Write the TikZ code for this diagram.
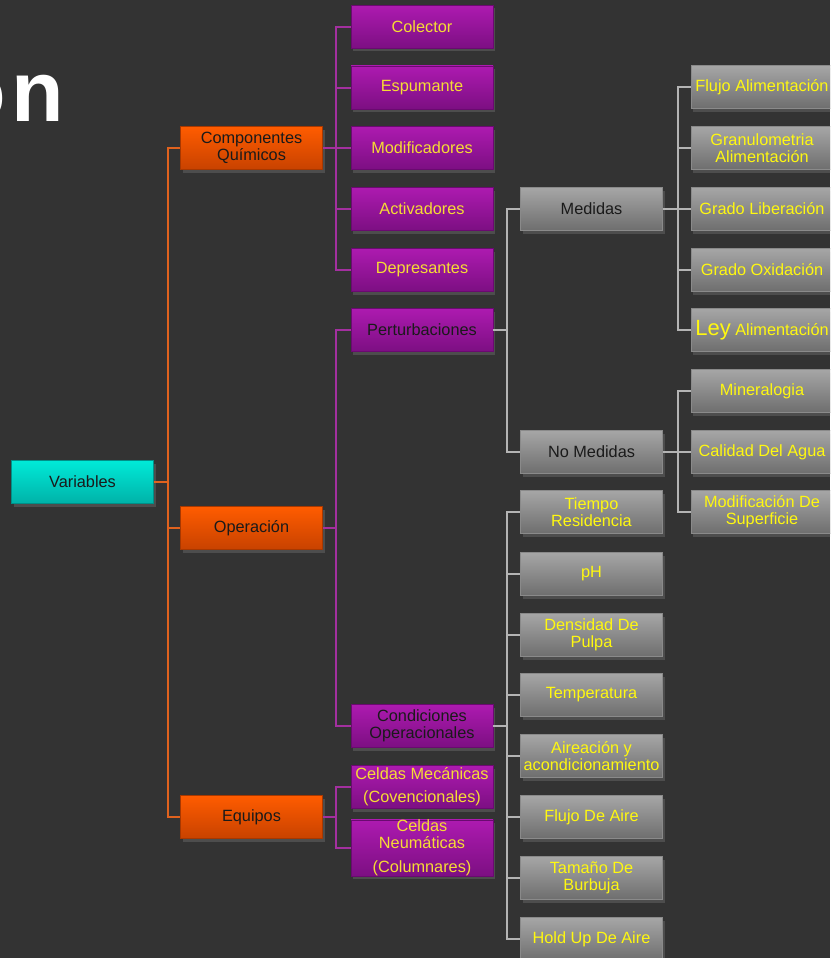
\documentclass[tikz,border=0pt]{standalone}
\usepackage{fontspec}
\setmainfont{Liberation Sans}
\usetikzlibrary{shadows}
\definecolor{bg}{HTML}{333333}
\definecolor{purT}{HTML}{AD1AB0}
\definecolor{purB}{HTML}{7C0F82}
\definecolor{purE}{HTML}{6A0A70}
\definecolor{orT}{HTML}{FF5C00}
\definecolor{orB}{HTML}{C84200}
\definecolor{orE}{HTML}{A83800}
\definecolor{cyT}{HTML}{00EAD8}
\definecolor{cyB}{HTML}{00B2A8}
\definecolor{cyE}{HTML}{009088}
\definecolor{grT}{HTML}{A6A6A6}
\definecolor{grB}{HTML}{6E6E6E}
\definecolor{grE}{HTML}{8A8A8A}
\definecolor{ylw}{HTML}{FFF810}
\definecolor{ylwP}{HTML}{F6DC34}
\definecolor{dark}{HTML}{1A1A1A}
\definecolor{lnO}{HTML}{E0621E}
\definecolor{lnP}{HTML}{A3309F}
\definecolor{lnG}{HTML}{B4B4B4}
\tikzset{
  box/.style={minimum width=142pt, minimum height=43pt, inner sep=0pt, align=center,
    font=\fontsize{16.3}{17}\selectfont, line width=0.8pt,
    drop shadow={shadow xshift=2pt, shadow yshift=-3pt, opacity=0.35}},
  pbox/.style={box, top color=purT, bottom color=purB, draw=purE, text=ylwP},
  pboxd/.style={pbox, text=dark},
  obox/.style={box, top color=orT, bottom color=orB, draw=orE, text=dark},
  cbox/.style={box, top color=cyT, bottom color=cyB, draw=cyE, text=dark},
  gbox/.style={box, top color=grT, bottom color=grB, draw=grE, text=ylw},
  gboxd/.style={gbox, text=dark},
  lo/.style={draw=lnO, line width=2pt},
  lp/.style={draw=lnP, line width=2pt},
  lg/.style={draw=lnG, line width=2pt},
}
\begin{document}
\begin{tikzpicture}[x=1pt,y=-1pt]
\fill[bg] (0,0) rectangle (830,958);
\useasboundingbox (0,0) rectangle (830,958);
\clip (0,0) rectangle (830,958);
% title
\node[anchor=base east, inner sep=0pt, text=white, font=\fontsize{86}{90}\selectfont\bfseries] (tit) at (64,121) {ó\kern5pt n};
% nodes
\node[cbox] (var) at (82.5,482) {Variables};
\node[obox] (cq) at (251.5,148) {Componentes\\Químicos};
\node[obox] (op) at (251.5,528) {Operación};
\node[obox] (eq) at (251.5,817) {Equipos};
\node[pbox] (col) at (422,27) {Colector};
\node[pbox] (esp) at (422,87.5) {Espumante};
\node[pbox] (mod) at (422,148) {Modificadores};
\node[pbox] (act) at (422,209) {Activadores};
\node[pbox] (dep) at (422,270) {Depresantes};
\node[pboxd] (per) at (422,330) {Perturbaciones};
\node[pboxd] (cop) at (422,726) {Condiciones\\Operacionales};
\node[pbox] (cme) at (422,787) {Celdas Mecánicas\\[6pt](Covencionales)};
\node[pbox, font=\fontsize{16.3}{16.5}\selectfont] (cne) at (422,848) {Celdas\\Neumáticas\\[8pt](Columnares)};
\node[gboxd] (med) at (591.5,209) {Medidas};
\node[gboxd] (nmed) at (591.5,452) {No Medidas};
\node[gbox] (tr) at (591.5,512) {Tiempo\\Residencia};
\node[gbox] (ph) at (591.5,574) {pH};
\node[gbox] (dp) at (591.5,635) {Densidad De\\Pulpa};
\node[gbox] (tem) at (591.5,695) {Temperatura};
\node[gbox] (air) at (591.5,756) {Aireación y\\acondicionamiento};
\node[gbox] (fa) at (591.5,817) {Flujo De Aire};
\node[gbox] (tb) at (591.5,878) {Tamaño De\\Burbuja};
\node[gbox] (hu) at (591.5,939) {Hold Up De Aire};
\node[gbox] (fal) at (762,87) {Flujo Alimentación};
\node[gbox] (gal) at (762,148) {Granulometria\\Alimentación};
\node[gbox] (gli) at (762,209) {Grado Liberación};
\node[gbox] (gox) at (762,270) {Grado Oxidación};
\node[gbox] (ley) at (762,330) {{\fontsize{22}{22}\selectfont Ley} Alimentación};
\node[gbox] (min) at (762,391) {Mineralogia};
\node[gbox] (cal) at (762,452) {Calidad Del Agua};
\node[gbox] (msu) at (762,512) {Modificación De\\Superficie};
% connectors
\foreach \t in {cq,op,eq} \draw[lo] (var.east) -- ++(14,0) |- (\t.west);
\foreach \t in {col,esp,mod,act,dep} \draw[lp] (cq.east) -- ++(13,0) |- (\t.west);
\foreach \t in {per,cop} \draw[lp] (op.east) -- ++(13,0) |- (\t.west);
\foreach \t in {cme,cne} \draw[lp] (eq.east) -- ++(13,0) |- (\t.west);
\foreach \t in {med,nmed} \draw[lg] (per.east) -- ++(14,0) |- (\t.west);
\foreach \t in {tr,ph,dp,tem,air,fa,tb,hu} \draw[lg] (cop.east) -- ++(14,0) |- (\t.west);
\foreach \t in {fal,gal,gli,gox,ley} \draw[lg] (med.east) -- ++(15,0) |- (\t.west);
\foreach \t in {min,cal,msu} \draw[lg] (nmed.east) -- ++(15,0) |- (\t.west);
\end{tikzpicture}
\end{document}
